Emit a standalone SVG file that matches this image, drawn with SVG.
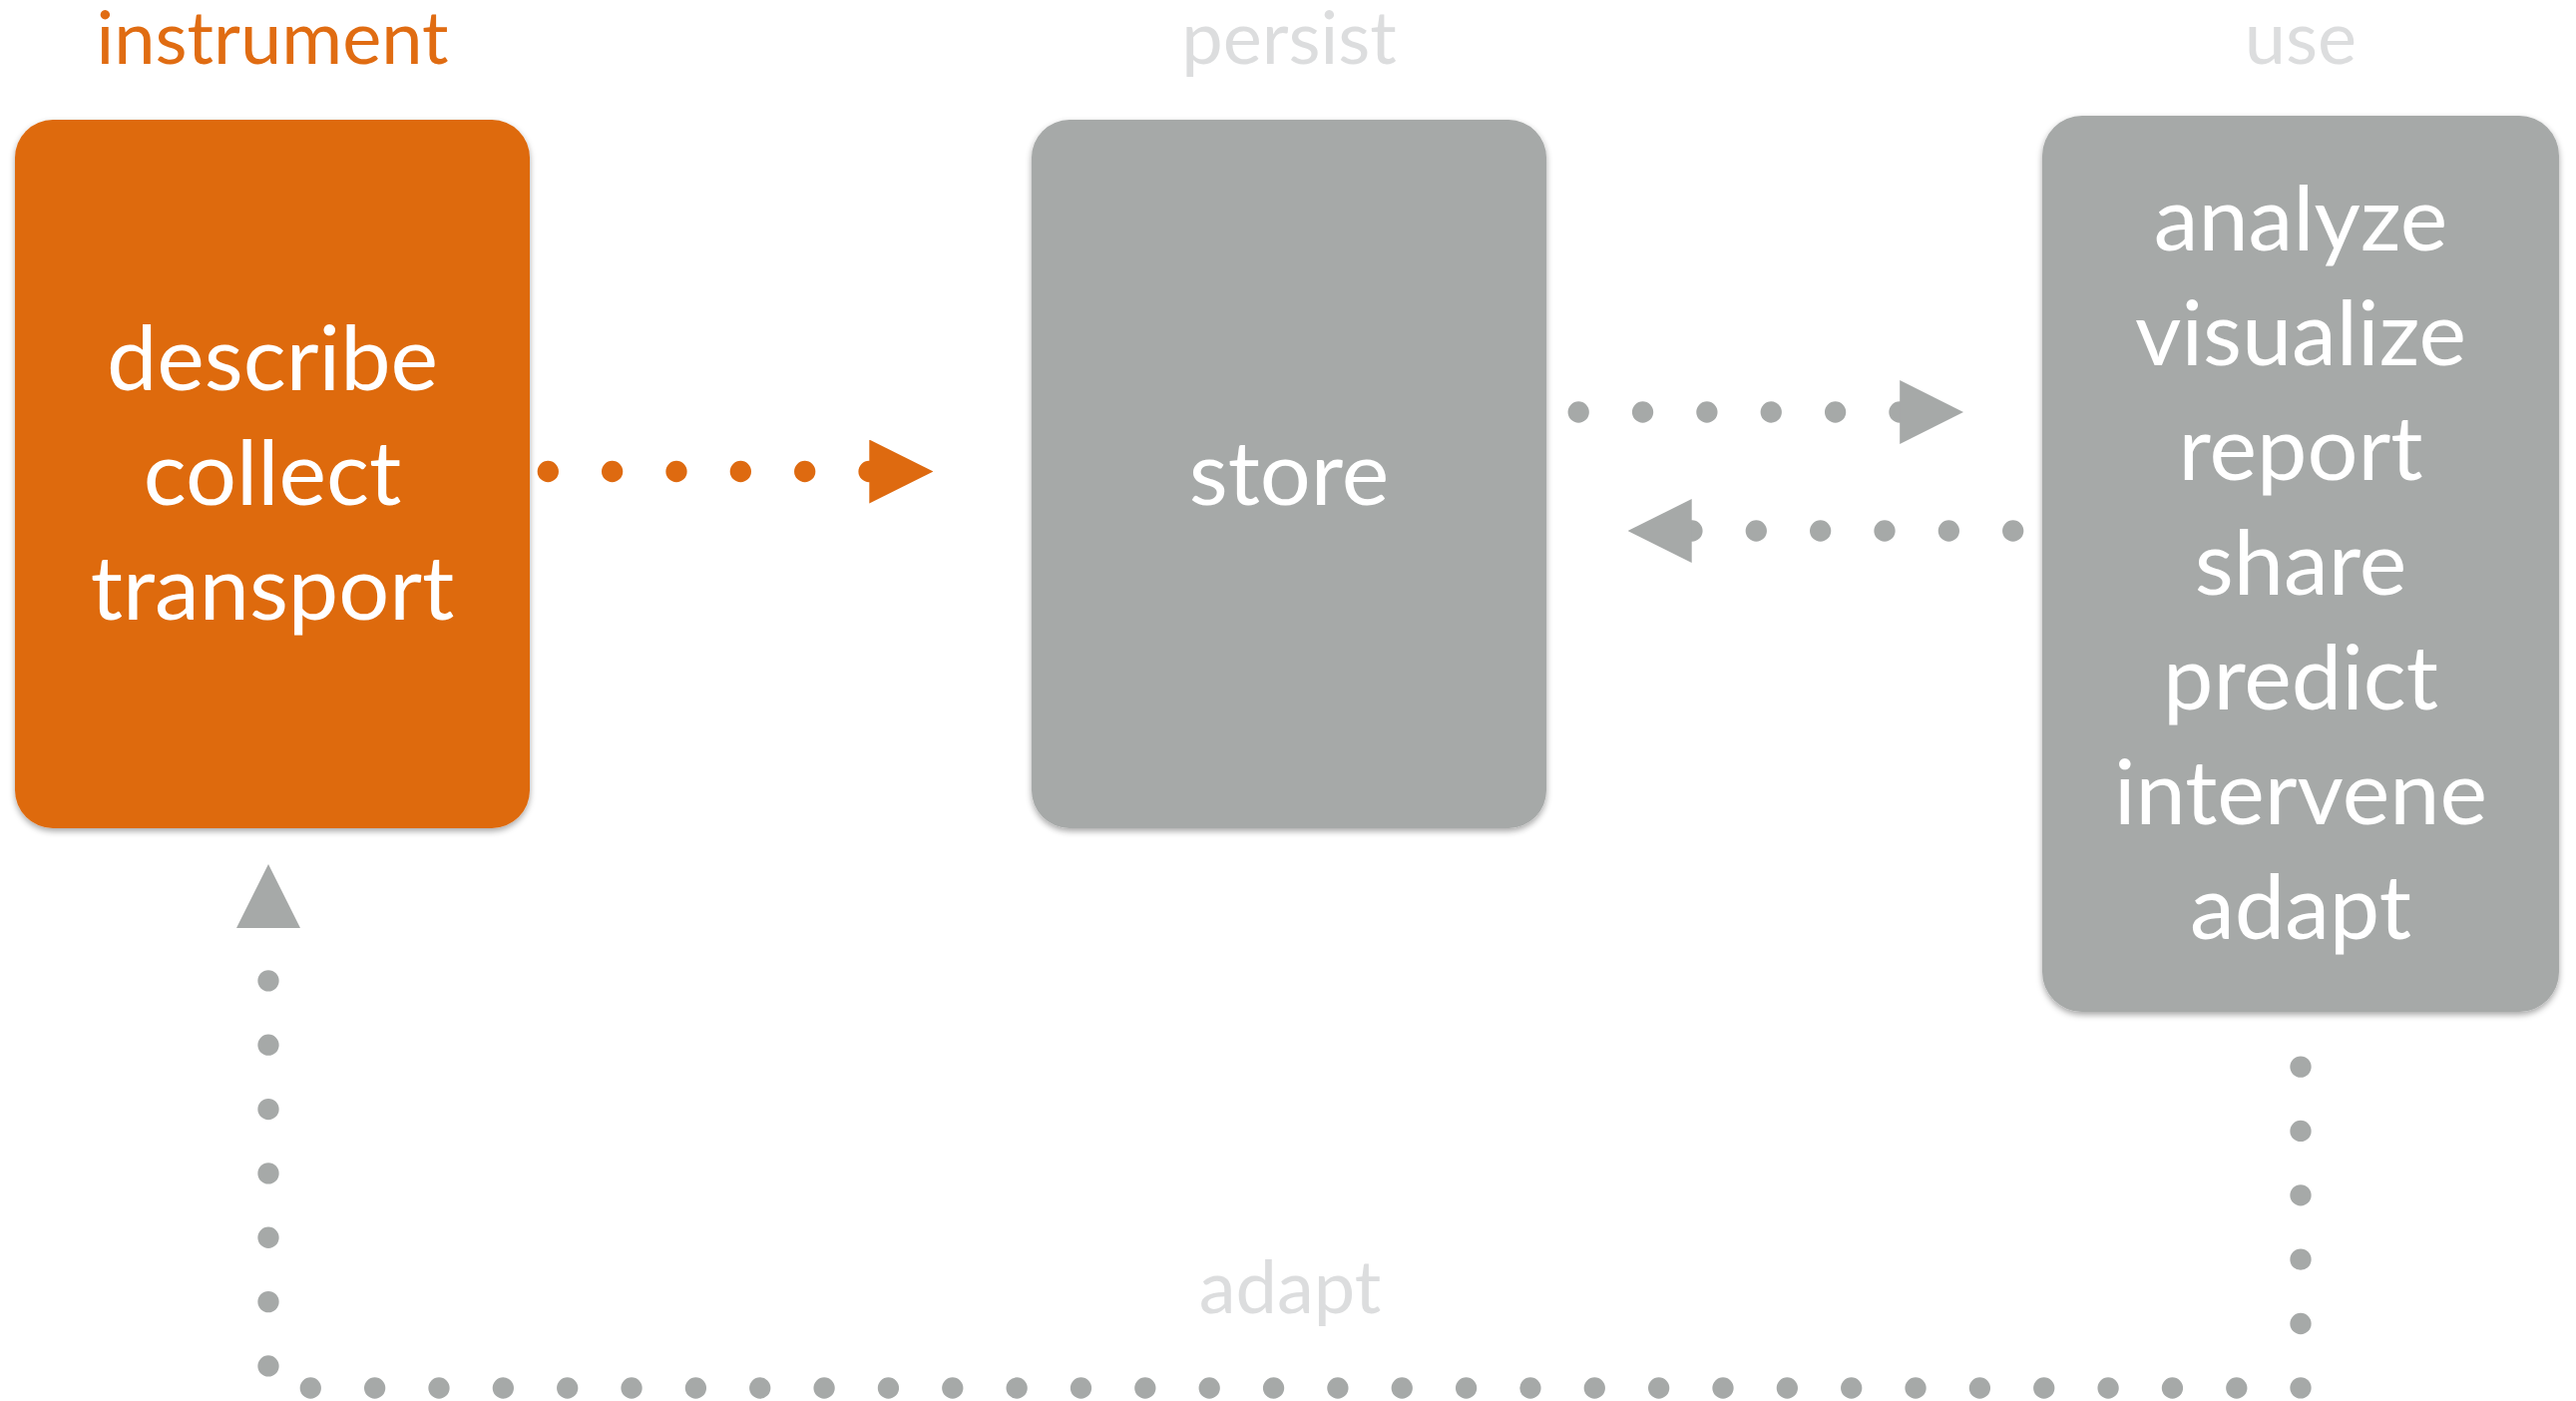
<svg xmlns="http://www.w3.org/2000/svg" width="2582" height="1404" viewBox="0 0 2582 1404">
  <style>
    .box-orange { fill: #DE6A10; }
    .box-gray { fill: #A6A9A8; }
    .body { font-family: Lato, "Open Sans", sans-serif; font-size: 90px; fill: #FFFFFF; text-anchor: middle; }
    .label { font-family: Lato, "Open Sans", sans-serif; font-size: 74px; text-anchor: middle; }
    .lbl-orange { fill: #E06C12; }
    .lbl-gray { fill: #DCDDDE; }
    .dots { fill: none; stroke-width: 21.3; stroke-linecap: round; stroke-dasharray: 0 64.35; }
    .dots-orange { stroke: #DE6A10; }
    .dots-gray { stroke: #A6A9A8; }
  </style>
  <defs>
    <filter id="shadow" x="-10%" y="-10%" width="120%" height="120%">
      <feDropShadow dx="0" dy="3" stdDeviation="3" flood-color="#000000" flood-opacity="0.35"/>
    </filter>
    <marker id="arrow-orange" markerUnits="userSpaceOnUse" markerWidth="64" markerHeight="64" refX="0" refY="32" orient="auto" viewBox="0 0 64 64">
      <path d="M0,0 L64,32 L0,64 Z" fill="#DE6A10"/>
    </marker>
    <marker id="arrow-gray" markerUnits="userSpaceOnUse" markerWidth="64" markerHeight="64" refX="0" refY="32" orient="auto" viewBox="0 0 64 64">
      <path d="M0,0 L64,32 L0,64 Z" fill="#A6A9A8"/>
    </marker>
  </defs>

  <g id="connectors">
    <path class="dots dots-orange" d="M549.3,472.5 H871.3" marker-end="url(#arrow-orange)"/>
    <path class="dots dots-gray" d="M1582.2,413 H1904.2" marker-end="url(#arrow-gray)"/>
    <path class="dots dots-gray" d="M2017.7,532 H1695.7" marker-end="url(#arrow-gray)"/>
    <path class="dots dots-gray" d="M2306,1069.1 V1391 H269 V930" marker-end="url(#arrow-gray)"/>
  </g>

  <g id="node-instrument">
    <text class="label lbl-orange" x="273" y="64">instrument</text>
    <rect class="box-orange" x="15" y="120" width="516" height="710" rx="38" ry="38" filter="url(#shadow)"/>
    <text class="body" x="273" y="391">describe</text>
    <text class="body" x="273" y="506">collect</text>
    <text class="body" x="273" y="621">transport</text>
  </g>

  <g id="node-persist">
    <text class="label lbl-gray" x="1292" y="64">persist</text>
    <rect class="box-gray" x="1034" y="120" width="516" height="710" rx="38" ry="38" filter="url(#shadow)"/>
    <text class="body" x="1292" y="506">store</text>
  </g>

  <g id="node-use">
    <text class="label lbl-gray" x="2306" y="64">use</text>
    <rect class="box-gray" x="2047" y="116" width="518" height="898" rx="40" ry="40" filter="url(#shadow)"/>
    <text class="body" x="2306" y="251">analyze</text>
    <text class="body" x="2306" y="366">visualize</text>
    <text class="body" x="2306" y="481">report</text>
    <text class="body" x="2306" y="596">share</text>
    <text class="body" x="2306" y="711">predict</text>
    <text class="body" x="2306" y="826">intervene</text>
    <text class="body" x="2306" y="941">adapt</text>
  </g>

  <g id="label-adapt">
    <text class="label lbl-gray" x="1293" y="1316">adapt</text>
  </g>
</svg>
